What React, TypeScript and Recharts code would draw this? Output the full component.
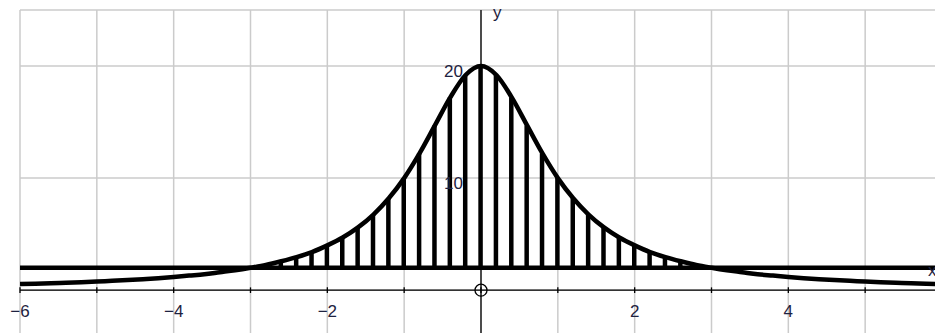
import React from 'react';
import {
  ComposedChart,
  Line,
  Bar,
  XAxis,
  YAxis,
  CartesianGrid,
  ReferenceLine,
  ReferenceDot,
} from 'recharts';

// x positions (step 0.2) and curve heights
const xValues = [
  -6.0, -5.8, -5.6, -5.4, -5.2, -5.0, -4.8, -4.6, -4.4, -4.2,
  -4.0, -3.8, -3.6, -3.4, -3.2, -3.0, -2.8, -2.6, -2.4, -2.2,
  -2.0, -1.8, -1.6, -1.4, -1.2, -1.0, -0.8, -0.6, -0.4, -0.2,
  0.0,
  0.2, 0.4, 0.6, 0.8, 1.0, 1.2, 1.4, 1.6, 1.8, 2.0,
  2.2, 2.4, 2.6, 2.8, 3.0, 3.2, 3.4, 3.6, 3.8, 4.0,
  4.2, 4.4, 4.6, 4.8, 5.0, 5.2, 5.4, 5.6, 5.8, 6.0,
];
const curveValues = [
  0.54, 0.58, 0.62, 0.66, 0.71, 0.77, 0.83, 0.9, 0.98, 1.07,
  1.18, 1.3, 1.42, 1.6, 1.78, 2.0, 2.25, 2.58, 2.95, 3.4,
  4.0, 4.7, 5.6, 6.75, 8.2, 10.0, 12.2, 14.7, 17.2, 19.2,
  20.0,
  19.2, 17.2, 14.7, 12.2, 10.0, 8.2, 6.75, 5.6, 4.7, 4.0,
  3.4, 2.95, 2.58, 2.25, 2.0, 1.78, 1.6, 1.42, 1.3, 1.18,
  1.07, 0.98, 0.9, 0.83, 0.77, 0.71, 0.66, 0.62, 0.58, 0.54,
];

const HORIZONTAL_LINE_Y = 2;
const SHADE_FROM = -3;
const SHADE_TO = 3;

const xTicks = [-6, -5, -4, -3, -2, -1, 0, 1, 2, 3, 4, 5, 6];
const xLabelTicks = [-6, -4, -2, 2, 4, 6];
const yGridTicks = [0, 10, 20];
const yLabelTicks = [10, 20];
const X_DOMAIN: [number, number] = [-6, 6];
const Y_DOMAIN: [number, number] = [-4, 25];

const data = xValues.map((x, i) => ({
  x,
  y: curveValues[i],
  hatch:
    x >= SHADE_FROM - 1e-9 && x <= SHADE_TO + 1e-9
      ? [HORIZONTAL_LINE_Y, curveValues[i]]
      : null,
}));

const TEXT_COLOR = '#1e2240';
const FONT = '"Liberation Sans", Arial, sans-serif';

const fmt = (v: number) => (v < 0 ? '\u2212' + Math.abs(v) : String(v));

export default function App() {
  return (
    <div
      style={{
        position: 'absolute',
        left: 0,
        top: 0,
        width: 935,
        height: 333,
        overflow: 'hidden',
        background: '#fff',
      }}
    >
      <ComposedChart
        width={945}
        height={345}
        data={data}
        margin={{ top: 10, right: 3, bottom: 10, left: 20 }}
      >
        <XAxis
          type="number"
          dataKey="x"
          domain={X_DOMAIN}
          ticks={xTicks}
          allowDataOverflow
          hide
        />
        <YAxis
          type="number"
          domain={Y_DOMAIN}
          ticks={yGridTicks}
          allowDataOverflow
          hide
        />
        <CartesianGrid stroke="#cbcbcb" strokeWidth={1.5} />
        <ReferenceLine y={0} stroke="#000" strokeWidth={1.3} />
        <ReferenceLine x={0} stroke="#000" strokeWidth={1.3} />
        {xTicks.map((t) => (
          <ReferenceLine
            key={'tk' + t}
            segment={[
              { x: t, y: -0.25 },
              { x: t, y: 0.25 },
            ]}
            stroke="#000"
            strokeWidth={1.3}
          />
        ))}
        <Bar
          dataKey="hatch"
          fill="#000"
          barSize={4.5}
          isAnimationActive={false}
        />
        <ReferenceLine
          y={HORIZONTAL_LINE_Y}
          stroke="#000"
          strokeWidth={4.5}
        />
        <Line
          type="monotone"
          dataKey="y"
          stroke="#000"
          strokeWidth={4.5}
          dot={false}
          isAnimationActive={false}
        />
        <ReferenceDot
          x={0}
          y={0}
          r={6}
          fill="none"
          stroke="#000"
          strokeWidth={1.3}
        />
        {xLabelTicks.map((t) => (
          <ReferenceDot
            key={'xl' + t}
            x={t}
            y={0}
            r={1}
            shape={(p: any) => (
              <text
                x={p.cx}
                y={p.cy + 27}
                textAnchor="middle"
                fontSize={17}
                fontFamily={FONT}
                fill={TEXT_COLOR}
              >
                {fmt(t)}
              </text>
            )}
          />
        ))}
        {yLabelTicks.map((t) => (
          <ReferenceDot
            key={'yl' + t}
            x={0}
            y={t}
            r={1}
            shape={(p: any) => (
              <text
                x={p.cx - 18}
                y={p.cy + 10.5}
                textAnchor="end"
                fontSize={17}
                fontFamily={FONT}
                fill={TEXT_COLOR}
              >
                {fmt(t)}
              </text>
            )}
          />
        ))}
        <ReferenceDot
          x={0}
          y={Y_DOMAIN[1]}
          r={1}
          shape={(p: any) => (
            <text
              x={p.cx + 12}
              y={p.cy + 8}
              fontSize={17}
              fontFamily={FONT}
              fill={TEXT_COLOR}
            >
              y
            </text>
          )}
        />
        <ReferenceDot
          x={X_DOMAIN[1]}
          y={HORIZONTAL_LINE_Y}
          r={1}
          shape={(p: any) => (
            <text
              x={p.cx - 14}
              y={p.cy + 8}
              fontSize={17}
              fontFamily={FONT}
              fill={TEXT_COLOR}
            >
              x
            </text>
          )}
        />
      </ComposedChart>
    </div>
  );
}
